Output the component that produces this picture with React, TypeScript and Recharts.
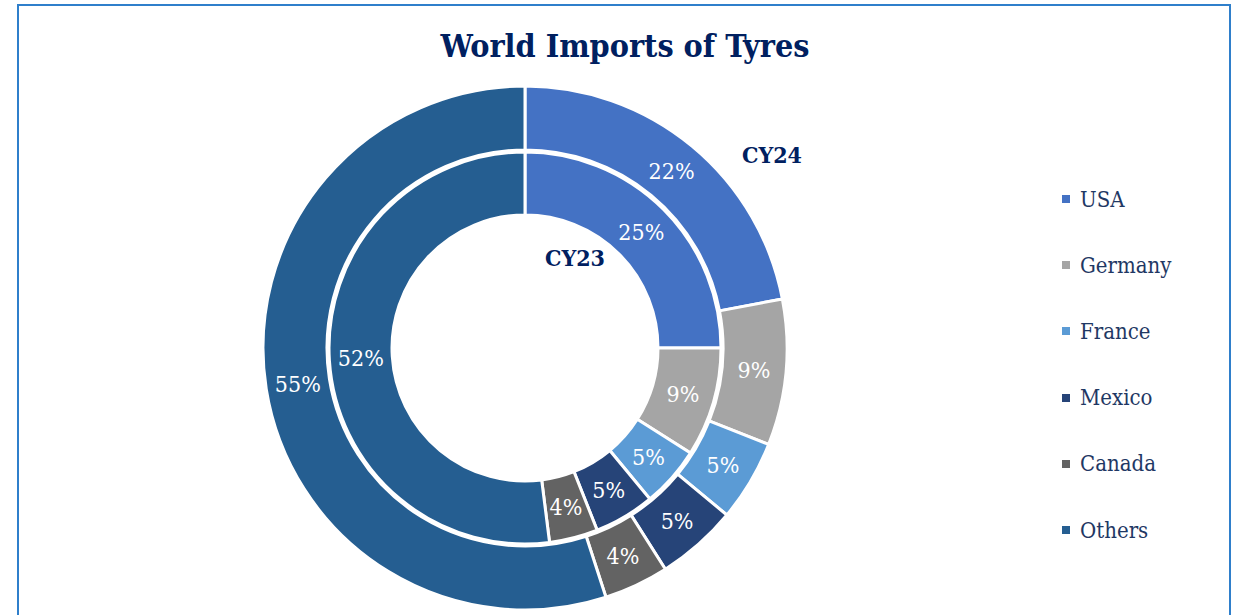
import { PieChart, Pie, Cell, Legend } from "recharts";

const countries = ["USA", "Germany", "France", "Mexico", "Canada", "Others"];
const cy23 = [25, 9, 5, 5, 4, 52];
const cy24 = [22, 9, 5, 5, 4, 55];
const colors = ["#4472C4", "#A5A5A5", "#5B9BD5", "#264478", "#636363", "#255E91"];

const inner = countries.map((name, i) => ({ name, value: cy23[i] }));
const outer = countries.map((name, i) => ({ name, value: cy24[i] }));

const FONT = "'DejaVu Serif Condensed', 'DejaVu Serif', serif";
const NAVY = "#002060";
const RADIAN = Math.PI / 180;

const renderLabel = (props: any) => {
  const { cx, cy, midAngle, innerRadius, outerRadius, value } = props;
  const r = (innerRadius + outerRadius) / 2;
  const x = cx + r * Math.cos(-midAngle * RADIAN);
  const y = cy + r * Math.sin(-midAngle * RADIAN);
  return (
    <text
      x={x}
      y={y}
      fill="#ffffff"
      textAnchor="middle"
      dominantBaseline="central"
      fontFamily={FONT}
      fontSize={23}
    >
      {value}%
    </text>
  );
};

const LegendList = () => (
  <div style={{ fontFamily: FONT }}>
    {countries.map((name, i) => (
      <div
        key={name}
        style={{ display: "flex", alignItems: "center", height: 66.2 }}
      >
        <span
          style={{
            width: 8,
            height: 8,
            background: colors[i],
            marginRight: 10,
            display: "inline-block",
          }}
        />
        <span style={{ fontSize: 22, color: "#1F3864" }}>{name}</span>
      </div>
    ))}
  </div>
);

export default function App() {
  return (
    <div
      style={{
        position: "absolute",
        left: 17,
        top: 4,
        width: 1210,
        height: 640,
        border: "2px solid #2F7FCB",
        background: "#fff",
      }}
    >
      <div
        style={{
          position: "absolute",
          left: 0,
          width: 1210,
          top: 21,
          textAlign: "center",
          fontFamily: FONT,
          fontWeight: "bold",
          fontSize: 32,
          color: NAVY,
          paddingLeft: 2,
          boxSizing: "border-box",
        }}
      >
        World Imports of Tyres
      </div>
      <div
        style={{
          position: "absolute",
          left: 703,
          top: 135,
          width: 100,
          textAlign: "center",
          fontFamily: FONT,
          fontWeight: "bold",
          fontSize: 23,
          color: NAVY,
          zIndex: 2,
        }}
      >
        CY24
      </div>
      <div
        style={{
          position: "absolute",
          left: 506,
          top: 238,
          width: 100,
          textAlign: "center",
          fontFamily: FONT,
          fontWeight: "bold",
          fontSize: 23,
          color: NAVY,
          zIndex: 2,
        }}
      >
        CY23
      </div>
      <PieChart width={1210} height={640}>
        <Pie
          data={inner}
          dataKey="value"
          nameKey="name"
          cx={501}
          cy={337}
          startAngle={90}
          endAngle={-270}
          innerRadius={133}
          outerRadius={196}
          stroke="#ffffff"
          strokeWidth={3}
          label={renderLabel}
          labelLine={false}
          isAnimationActive={false}
        >
          {inner.map((_, i) => (
            <Cell key={`in-${i}`} fill={colors[i]} />
          ))}
        </Pie>
        <Pie
          data={outer}
          dataKey="value"
          nameKey="name"
          cx={501}
          cy={337}
          startAngle={90}
          endAngle={-270}
          innerRadius={198}
          outerRadius={262}
          stroke="#ffffff"
          strokeWidth={3}
          label={renderLabel}
          labelLine={false}
          isAnimationActive={false}
        >
          {outer.map((_, i) => (
            <Cell key={`out-${i}`} fill={colors[i]} />
          ))}
        </Pie>
        <Legend
          content={<LegendList />}
          wrapperStyle={{ left: 1043, top: 160, width: 160 }}
        />
      </PieChart>
    </div>
  );
}
